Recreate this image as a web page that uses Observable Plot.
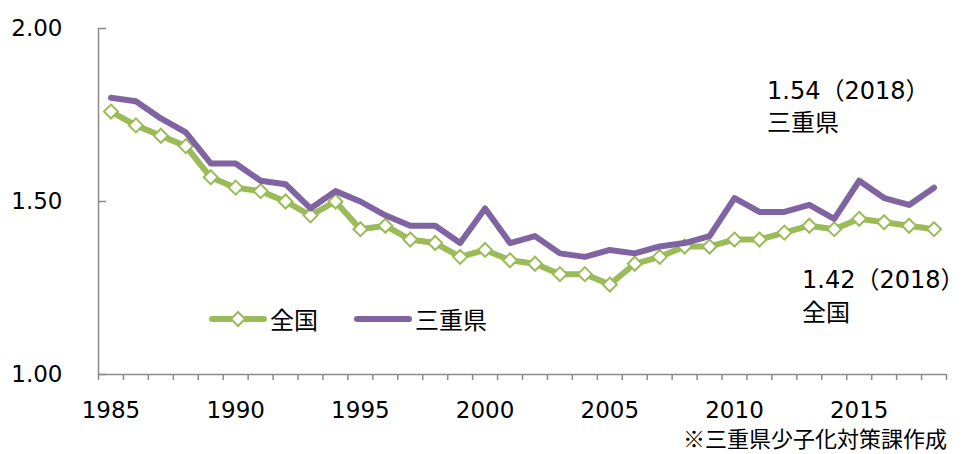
<!DOCTYPE html>
<html><head><meta charset="utf-8">
<script src="https://cdn.jsdelivr.net/npm/d3@7"></script>
<script src="https://cdn.jsdelivr.net/npm/@observablehq/plot@0.6"></script>
<style>
body{margin:0;background:#fff;font-family:"DejaVu Sans","Noto Sans CJK JP",sans-serif;}
#wrap{position:relative;width:964px;height:454px;}
#caption{position:absolute;right:17px;top:426px;font-size:22px;line-height:22px;color:#000;font-family:"Noto Sans CJK JP",sans-serif;}
.leg{position:absolute;display:flex;align-items:center;font-size:24px;color:#000;font-family:"Noto Sans CJK JP",sans-serif;}
</style></head><body>
<div id="wrap"><div id="chart"></div><div id="legend"></div><div id="caption"></div></div>
<script>
const years = [1985,1986,1987,1988,1989,1990,1991,1992,1993,1994,1995,1996,1997,1998,1999,2000,2001,2002,2003,2004,2005,2006,2007,2008,2009,2010,2011,2012,2013,2014,2015,2016,2017,2018];
const national = [1.76,1.72,1.69,1.66,1.57,1.54,1.53,1.50,1.46,1.50,1.42,1.43,1.39,1.38,1.34,1.36,1.33,1.32,1.29,1.29,1.26,1.32,1.34,1.37,1.37,1.39,1.39,1.41,1.43,1.42,1.45,1.44,1.43,1.42];
const mie = [1.80,1.79,1.74,1.70,1.61,1.61,1.56,1.55,1.48,1.53,1.50,1.46,1.43,1.43,1.38,1.48,1.38,1.40,1.35,1.34,1.36,1.35,1.37,1.38,1.40,1.51,1.47,1.47,1.49,1.45,1.56,1.51,1.49,1.54];
const seriesNames = ["全国", "三重県"];
const yTicks = [1.00, 1.50, 2.00];
const xTickLabels = [1985, 1990, 1995, 2000, 2005, 2010, 2015];
const captionText = "※三重県少子化対策課作成";

const green = "#9BBB59", purple = "#8064A2", axisColor = "#8a8a8a";
const natRows = years.map((y, i) => ({year: y, value: national[i], series: seriesNames[0]}));
const mieRows = years.map((y, i) => ({year: y, value: mie[i], series: seriesNames[1]}));
const lastNat = [natRows[natRows.length - 1]];
const lastMie = [mieRows[mieRows.length - 1]];
const bounds = years.map(y => y - 0.5).concat([years[years.length - 1] + 0.5]);
const fmtLabel = d => `${d.value.toFixed(2)}（${d.year}）\n${d.series}`;

const chart = Plot.plot({
  width: 964, height: 424,
  marginLeft: 98, marginRight: 18, marginTop: 28, marginBottom: 50,
  style: {fontFamily: '"DejaVu Sans","Noto Sans CJK JP",sans-serif', fontSize: "23px", color: "#000", background: "#fff"},
  x: {domain: [bounds[0], bounds[bounds.length - 1]]},
  y: {domain: [yTicks[0], yTicks[yTicks.length - 1]]},
  marks: [
    Plot.axisY({ticks: yTicks, tickSize: 0, tickPadding: 36, tickFormat: d => d.toFixed(2), fontSize: 23, label: null}),
    Plot.axisY({ticks: yTicks, tickSize: -8, tickFormat: () => "", stroke: axisColor, strokeWidth: 1.5, label: null}),
    Plot.axisX({ticks: xTickLabels, tickSize: 0, tickPadding: 27, tickFormat: d => String(d), fontSize: 23, label: null}),
    Plot.axisX({ticks: bounds, tickSize: 6, tickFormat: () => "", stroke: axisColor, strokeWidth: 1.5, label: null}),
    Plot.ruleX([bounds[0]], {stroke: axisColor, strokeWidth: 1.5}),
    Plot.ruleY([yTicks[0]], {stroke: axisColor, strokeWidth: 1.5}),
    Plot.line(natRows, {x: "year", y: "value", stroke: green, strokeWidth: 6}),
    Plot.dot(natRows, {x: "year", y: "value", symbol: "diamond2", r: 6.3, fill: "#fff", stroke: green, strokeWidth: 2}),
    Plot.line(mieRows, {x: "year", y: "value", stroke: purple, strokeWidth: 6}),
    Plot.text(lastMie, {x: "year", y: "value", text: fmtLabel, textAnchor: "start", lineAnchor: "top", dx: -167, dy: -112, fontSize: 24, lineHeight: 1.35, fill: "#000"}),
    Plot.text(lastNat, {x: "year", y: "value", text: fmtLabel, textAnchor: "start", lineAnchor: "top", dx: -132, dy: 36, fontSize: 24, lineHeight: 1.35, fill: "#000"})
  ]
});
document.getElementById("chart").appendChild(chart);
document.getElementById("caption").textContent = captionText;

const legend = document.getElementById("legend");
const items = [
  {name: seriesNames[0], color: green, marker: true, left: 206},
  {name: seriesNames[1], color: purple, marker: false, left: 351}
];
items.forEach(it => {
  const d = document.createElement("div");
  d.className = "leg";
  d.style.left = it.left + "px";
  d.style.top = "301px";
  const ns = "http://www.w3.org/2000/svg";
  const s = document.createElementNS(ns, "svg");
  s.setAttribute("width", 62); s.setAttribute("height", 32);
  const ln = document.createElementNS(ns, "line");
  ln.setAttribute("x1", 6); ln.setAttribute("x2", 58); ln.setAttribute("y1", 16); ln.setAttribute("y2", 16);
  ln.setAttribute("stroke", it.color); ln.setAttribute("stroke-width", 6); ln.setAttribute("stroke-linecap", "round");
  s.appendChild(ln);
  if (it.marker) {
    const p = document.createElementNS(ns, "path");
    p.setAttribute("d", "M32,9L39,16L32,23L25,16Z");
    p.setAttribute("fill", "#fff"); p.setAttribute("stroke", it.color); p.setAttribute("stroke-width", 2);
    s.appendChild(p);
  }
  d.appendChild(s);
  const t = document.createElement("span");
  t.textContent = it.name;
  t.style.marginLeft = "2px";
  d.appendChild(t);
  legend.appendChild(d);
});
</script>
</body></html>
